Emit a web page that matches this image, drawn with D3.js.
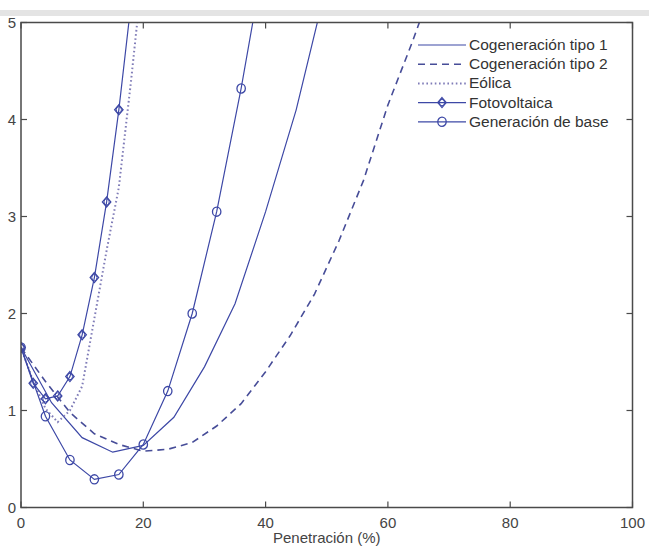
<!DOCTYPE html>
<html>
<head>
<meta charset="utf-8">
<script src="https://cdn.jsdelivr.net/npm/d3@7"></script>
<style>
  body { margin: 0; background: #fff; }
  svg { display: block; font-family: "Liberation Sans", Arial, sans-serif; }
</style>
</head>
<body>
<div id="chart"></div>
<script>
// Valeurs
const xTicks = [0, 20, 40, 60, 80, 100];
const yTicks = [0, 1, 2, 3, 4, 5];

const cog1X = [0, 5, 10, 15, 20, 25, 30, 35, 40, 45, 50];
const cog1Y = [1.65, 1.08, 0.72, 0.57, 0.64, 0.93, 1.45, 2.1, 3.05, 4.1, 5.4];

const cog2X = [0, 4, 8, 12, 16, 20, 24, 28, 32, 36, 40, 44, 48, 52, 56, 60, 64, 68];
const cog2Y = [1.65, 1.3, 0.98, 0.76, 0.65, 0.58, 0.6, 0.67, 0.84, 1.07, 1.4, 1.77, 2.2, 2.75, 3.37, 4.15, 4.8, 5.5];

const eolX = [0, 2, 4, 6, 8, 10, 12, 14, 16, 18, 20];
const eolY = [1.65, 1.3, 1.02, 0.88, 1.0, 1.25, 1.95, 2.65, 3.3, 4.4, 5.6];

const fotoX = [0, 2, 4, 6, 8, 10, 12, 14, 16, 18];
const fotoY = [1.65, 1.28, 1.12, 1.15, 1.35, 1.78, 2.37, 3.15, 4.1, 5.2];

const baseX = [0, 4, 8, 12, 16, 20, 24, 28, 32, 36, 40];
const baseY = [1.65, 0.94, 0.49, 0.29, 0.34, 0.65, 1.2, 2.0, 3.05, 4.32, 5.75];

const seriesNames = ['Cogeneración tipo 1', 'Cogeneración tipo 2', 'Eólica', 'Fotovoltaica', 'Generación de base'];

const W = 649, H = 546;
const M = { top: 22.5, right: 16.5, bottom: 38.5, left: 21 };
const iw = W - M.left - M.right;
const ih = H - M.top - M.bottom;

const BLUE = '#3d48a6';

const svg = d3.select('#chart').append('svg')
    .attr('width', W).attr('height', H);

// bande grise en haut (capture d'écran)
svg.append('rect')
    .attr('x', 0).attr('y', 10).attr('width', W).attr('height', 6)
    .attr('fill', '#e4e4e4');

const x = d3.scaleLinear().domain([0, 100]).range([0, iw]);
const y = d3.scaleLinear().domain([0, 5]).range([ih, 0]);

const g = svg.append('g').attr('transform', `translate(${M.left},${M.top})`);

g.append('clipPath').attr('id', 'clip')
    .append('rect').attr('width', iw).attr('height', ih);

const zip = (xs, ys) => xs.map((v, i) => [v, ys[i]]);
const line = d3.line().x(d => x(d[0])).y(d => y(d[1]));

const series = [
    { data: zip(cog1X, cog1Y), color: BLUE, dash: null, width: 1.2, marker: null },
    { data: zip(cog2X, cog2Y), color: '#474d98', dash: '7,5', width: 1.6, marker: null },
    { data: zip(eolX, eolY), color: '#807db8', dash: '1.6,2.6', width: 2, marker: null },
    { data: zip(fotoX, fotoY), color: BLUE, dash: null, width: 1.2, marker: 'diamond' },
    { data: zip(baseX, baseY), color: BLUE, dash: null, width: 1.2, marker: 'circle' }
];

const plot = g.append('g').attr('clip-path', 'url(#clip)');

function drawMarker(sel, type, color) {
    if (type === 'circle') {
        sel.append('ellipse').attr('rx', 4.2).attr('ry', 4.6)
            .attr('fill', 'none').attr('stroke', color).attr('stroke-width', 1.3);
    } else if (type === 'diamond') {
        sel.append('path').attr('d', 'M0,-5L4.2,0L0,5L-4.2,0Z')
            .attr('fill', 'none').attr('stroke', color).attr('stroke-width', 1.3);
        sel.append('ellipse').attr('rx', 2.6).attr('ry', 3.2)
            .attr('fill', 'none').attr('stroke', color).attr('stroke-width', 1);
    }
}

series.forEach(s => {
    plot.append('path')
        .attr('d', line(s.data))
        .attr('fill', 'none')
        .attr('stroke', s.color)
        .attr('stroke-width', s.width)
        .attr('stroke-dasharray', s.dash);
    if (s.marker) {
        s.data.filter(d => d[1] <= 5).forEach(d => {
            const m = plot.append('g').attr('transform', `translate(${x(d[0])},${y(d[1])})`);
            drawMarker(m, s.marker, s.color);
        });
    }
});

// Axes avec ticks intérieurs sur les quatre côtés
const AX = '#4a4a4a';
g.append('rect').attr('width', iw).attr('height', ih)
    .attr('fill', 'none').attr('stroke', AX).attr('stroke-width', 1.5);

xTicks.forEach(t => {
    g.append('line').attr('x1', x(t)).attr('x2', x(t)).attr('y1', ih).attr('y2', ih - 6)
        .attr('stroke', AX).attr('stroke-width', 1.2);
    g.append('line').attr('x1', x(t)).attr('x2', x(t)).attr('y1', 0).attr('y2', 6)
        .attr('stroke', AX).attr('stroke-width', 1.2);
    g.append('text').attr('x', x(t)).attr('y', ih + 20)
        .attr('text-anchor', 'middle').attr('font-size', 15).attr('fill', '#444')
        .text(t);
});

yTicks.forEach(t => {
    g.append('line').attr('x1', 0).attr('x2', 6).attr('y1', y(t)).attr('y2', y(t))
        .attr('stroke', AX).attr('stroke-width', 1.2);
    g.append('line').attr('x1', iw).attr('x2', iw - 6).attr('y1', y(t)).attr('y2', y(t))
        .attr('stroke', AX).attr('stroke-width', 1.2);
    g.append('text').attr('x', -5).attr('y', y(t) + 5)
        .attr('text-anchor', 'end').attr('font-size', 15).attr('fill', '#444')
        .text(t);
});

svg.append('text')
    .attr('x', M.left + iw / 2).attr('y', H - 3)
    .attr('text-anchor', 'middle').attr('font-size', 15).attr('fill', '#444')
    .text('Penetración (%)');

// Légende
const legend = svg.append('g').attr('transform', 'translate(418,45)');
series.forEach((s, i) => {
    const row = legend.append('g').attr('transform', `translate(0,${i * 19.2})`);
    row.append('line').attr('x1', 0).attr('x2', 48).attr('y1', 0).attr('y2', 0)
        .attr('stroke', s.color).attr('stroke-width', s.width)
        .attr('stroke-dasharray', s.dash);
    if (s.marker) {
        const m = row.append('g').attr('transform', 'translate(24,0)');
        drawMarker(m, s.marker, s.color);
    }
    row.append('text').attr('x', 51).attr('y', 5)
        .attr('font-size', 15.5).attr('fill', '#333')
        .text(seriesNames[i]);
});
</script>
</body>
</html>
